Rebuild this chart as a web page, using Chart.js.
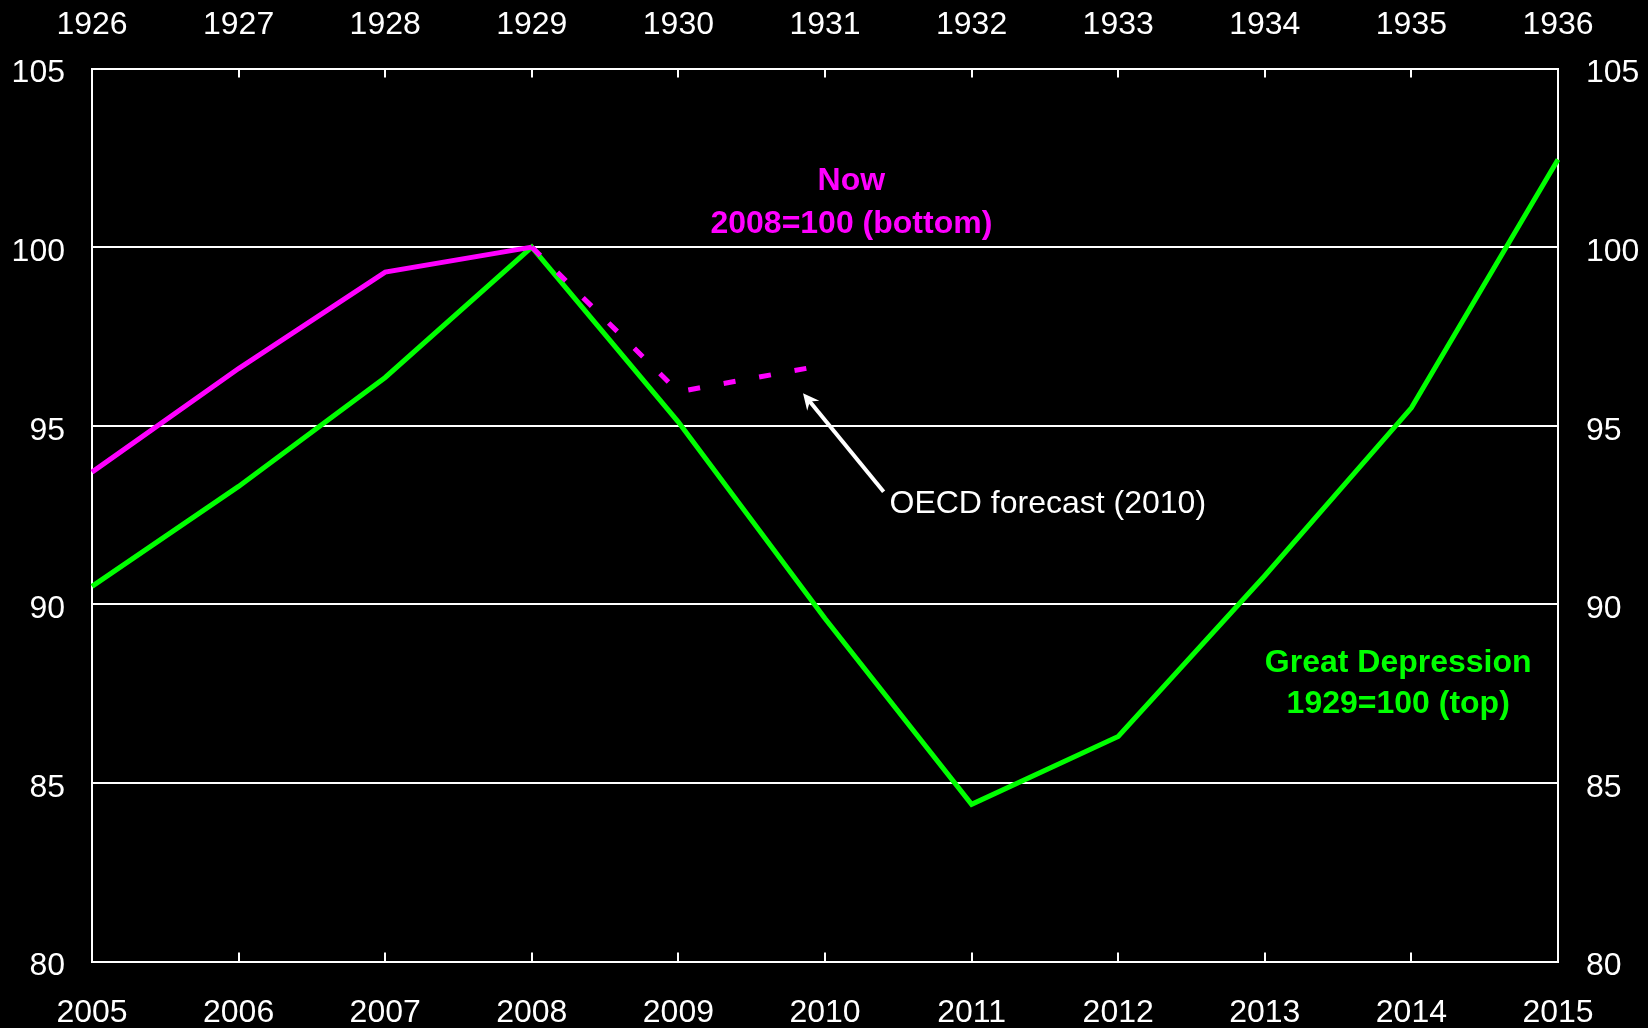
<!DOCTYPE html>
<html>
<head>
<meta charset="utf-8">
<script src="https://cdn.jsdelivr.net/npm/chart.js@4.4.1/dist/chart.umd.min.js"></script>
<style>
    html, body { margin: 0; padding: 0; background: #000; }
    #wrap { width: 1648px; height: 1028px; position: relative; }
</style>
</head>
<body>
<div id="wrap"><canvas id="gdpChart"></canvas></div>
<script>
// Bottom axis: the current downturn, top axis: the Great Depression
const yearsNow = ['2005', '2006', '2007', '2008', '2009', '2010', '2011', '2012', '2013', '2014', '2015'];
const yearsDepression = ['1926', '1927', '1928', '1929', '1930', '1931', '1932', '1933', '1934', '1935', '1936'];

// Now, 2008=100
const nowActual = [93.7, 96.6, 99.3, 100, null, null, null, null, null, null, null];
// OECD forecast (2010)
const nowForecast = [null, null, null, 100, 95.95, 96.7, null, null, null, null, null];
// Great Depression, 1929=100
const depression = [90.5, 93.3, 96.35, 100, 95.1, 89.6, 84.4, 86.3, 90.8, 95.5, 102.45];

const yMin = 80;
const yMax = 105;
const yStep = 5;

const MAGENTA = '#ff00ff';
const GREEN = '#00ff00';
const FONT = '"Liberation Sans", Arial, sans-serif';

Chart.defaults.font.family = FONT;
Chart.defaults.font.size = 32;
Chart.defaults.color = '#ffffff';

// black background + tick marks pointing into the plot
const framePlugin = {
    id: 'frame',
    beforeDraw(chart) {
        const ctx = chart.ctx;
        ctx.save();
        ctx.fillStyle = '#000';
        ctx.fillRect(0, 0, chart.width, chart.height);
        ctx.restore();
    },
    afterDraw(chart) {
        const ctx = chart.ctx;
        const area = chart.chartArea;
        ctx.save();
        ctx.strokeStyle = '#fff';
        ctx.lineWidth = 2;
        ['x', 'x2'].forEach(function(id) {
            const scale = chart.scales[id];
            const n = scale.ticks.length;
            for (let i = 1; i < n - 1; i++) {
                const px = Math.round(scale.getPixelForTick(i));
                ctx.beginPath();
                if (id === 'x') {
                    ctx.moveTo(px, area.bottom);
                    ctx.lineTo(px, area.bottom - 9);
                } else {
                    ctx.moveTo(px, area.top);
                    ctx.lineTo(px, area.top + 9);
                }
                ctx.stroke();
            }
        });
        ctx.restore();
    }
};

// text labels and the forecast arrow
const notesPlugin = {
    id: 'notes',
    afterDatasetsDraw(chart) {
        const ctx = chart.ctx;
        const xs = chart.scales.x;
        const ys = chart.scales.y;
        const px = v => xs.getPixelForValue(v);
        const py = v => ys.getPixelForValue(v);

        ctx.save();
        ctx.textAlign = 'center';
        ctx.textBaseline = 'middle';
        ctx.font = 'bold 32px ' + FONT;

        ctx.fillStyle = MAGENTA;
        ctx.fillText('Now', px(5.18), py(101.85));
        ctx.fillText('2008=100 (bottom)', px(5.18), py(100.65));

        ctx.fillStyle = GREEN;
        ctx.fillText('Great Depression', px(8.91), py(88.36));
        ctx.fillText('1929=100 (top)', px(8.91), py(87.21));

        ctx.font = '32px ' + FONT;
        ctx.fillStyle = '#fff';
        ctx.textAlign = 'left';
        ctx.fillText('OECD forecast (2010)', px(5.44), py(92.80));

        // arrow
        const x1 = px(5.40), y1 = py(93.15);
        const x2 = px(4.85), y2 = py(95.91);
        const ang = Math.atan2(y2 - y1, x2 - x1);
        const head = 18;
        ctx.strokeStyle = '#fff';
        ctx.lineWidth = 4;
        ctx.beginPath();
        ctx.moveTo(x1, y1);
        ctx.lineTo(x2 - Math.cos(ang) * 10, y2 - Math.sin(ang) * 10);
        ctx.stroke();
        ctx.fillStyle = '#fff';
        ctx.beginPath();
        ctx.moveTo(x2, y2);
        ctx.lineTo(x2 - head * Math.cos(ang - 0.45), y2 - head * Math.sin(ang - 0.45));
        ctx.lineTo(x2 - head * 0.6 * Math.cos(ang), y2 - head * 0.6 * Math.sin(ang));
        ctx.lineTo(x2 - head * Math.cos(ang + 0.45), y2 - head * Math.sin(ang + 0.45));
        ctx.closePath();
        ctx.fill();
        ctx.restore();
    }
};

const ctx = document.getElementById('gdpChart').getContext('2d');

new Chart(ctx, {
    type: 'line',
    data: {
        labels: yearsNow,
        datasets: [
            {
                label: 'Now, 2008=100',
                data: nowActual,
                borderColor: MAGENTA,
                borderWidth: 5,
                pointRadius: 0,
                tension: 0,
                spanGaps: false,
                xAxisID: 'x',
                yAxisID: 'y'
            },
            {
                label: 'OECD forecast (2010)',
                data: nowForecast,
                borderColor: MAGENTA,
                borderWidth: 5,
                borderDash: [12, 24],
                pointRadius: 0,
                tension: 0,
                xAxisID: 'x',
                yAxisID: 'y'
            },
            {
                label: 'Great Depression, 1929=100',
                data: depression,
                borderColor: GREEN,
                borderWidth: 5,
                pointRadius: 0,
                tension: 0,
                xAxisID: 'x2',
                yAxisID: 'y'
            }
        ]
    },
    options: {
        responsive: true,
        maintainAspectRatio: false,
        animation: false,
        layout: { padding: 0 },
        scales: {
            x: {
                type: 'category',
                position: 'bottom',
                labels: yearsNow,
                offset: false,
                grid: { display: false, drawTicks: false },
                border: { display: true, color: '#fff', width: 2 },
                ticks: { color: '#fff', padding: 32.5, maxRotation: 0, autoSkip: false },
                afterFit: function(scale) { scale.height = 66.5; }
            },
            x2: {
                type: 'category',
                position: 'top',
                labels: yearsDepression,
                offset: false,
                grid: { display: false, drawTicks: false },
                border: { display: true, color: '#fff', width: 2 },
                ticks: { color: '#fff', padding: 24, maxRotation: 0, autoSkip: false },
                afterFit: function(scale) { scale.height = 68.5; }
            },
            y: {
                position: 'left',
                min: yMin,
                max: yMax,
                grid: { color: '#fff', lineWidth: 2, drawTicks: false },
                border: { display: true, color: '#fff', width: 2 },
                ticks: { stepSize: yStep, color: '#fff', padding: 27, labelOffset: 5 },
                afterFit: function(scale) { scale.width = 92; }
            },
            y2: {
                position: 'right',
                min: yMin,
                max: yMax,
                grid: { display: false, drawTicks: false },
                border: { display: true, color: '#fff', width: 2 },
                ticks: { stepSize: yStep, color: '#fff', padding: 28, labelOffset: 5 },
                afterFit: function(scale) { scale.width = 90; }
            }
        },
        plugins: {
            legend: { display: false },
            tooltip: { enabled: false }
        }
    },
    plugins: [framePlugin, notesPlugin]
});
</script>
</body>
</html>
